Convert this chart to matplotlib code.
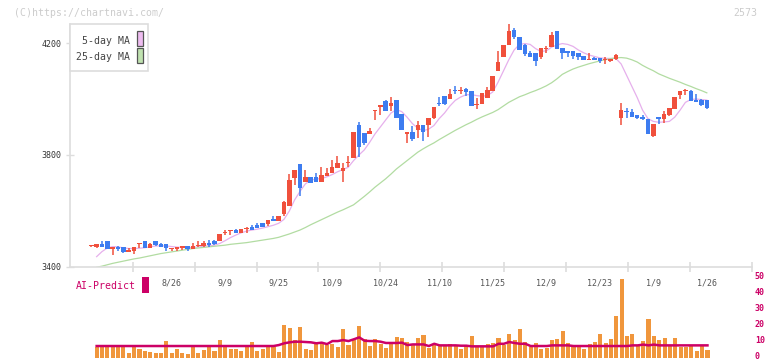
import numpy as np
import matplotlib
matplotlib.use("Agg")
import matplotlib.pyplot as plt
from matplotlib.patches import Rectangle
from matplotlib.transforms import blended_transform_factory, ScaledTranslation

nan = np.nan

# ---------------- data ----------------
opens = [3474,3471,3482,3493,3465,3471,3471,3455,3457,3481,
         3493,3469,3493,3481,3482,3466,3465,3469,3474,3465,
         3474,3474,3486,3493,3494,3522,3530,3532,3523,3535,
         3543,3550,3557,3554,3573,3566,3589,3619,3719,3768,
         3705,3720,3720,3705,3726,3735,3754,3743,3770,3790,
         3907,3878,3875,3958,3970,3994,3975,3996,3946,3876,
         3882,3889,3907,3907,3931,3984,4011,4001,4033,4027,
         4037,4029,3980,3982,4004,4029,4101,4151,4194,4246,
         4221,4194,4165,4163,4151,4179,4187,4242,4182,4171,
         4171,4165,4154,4141,4146,4146,4140,4137,4142,3931,
         3957,3954,3943,3937,3929,3869,3936,3930,3943,3965,
         4015,4027,4030,3996,3996,3996]
highs = [3476,3482,3493,3494,3472,3476,3472,3467,3472,3486,
         3494,3486,3494,3486,3483,3468,3471,3475,3475,3485,
         3493,3492,3496,3498,3519,3532,3533,3536,3537,3544,
         3549,3558,3558,3569,3583,3583,3634,3732,3747,3769,
         3746,3721,3735,3758,3752,3782,3796,3770,3796,3883,
         3919,3879,3898,3962,3980,3995,4008,3997,3947,3882,
         3904,3921,3908,3933,3971,4007,4012,4036,4046,4043,
         4038,4030,4005,4021,4043,4083,4170,4193,4268,4254,
         4222,4195,4171,4164,4183,4189,4238,4243,4183,4172,
         4172,4166,4155,4163,4151,4147,4149,4144,4159,3985,
         3967,3964,3944,3943,3930,3912,3937,3957,3969,4008,
         4030,4037,4031,4018,4001,3997]
lows = [3473,3469,3472,3464,3443,3458,3449,3454,3448,3469,
        3468,3468,3474,3470,3458,3457,3458,3461,3458,3464,
        3473,3473,3473,3480,3493,3514,3515,3522,3522,3520,
        3532,3539,3542,3548,3565,3565,3583,3618,3694,3655,
        3704,3699,3704,3704,3725,3734,3753,3702,3758,3789,
        3794,3836,3874,3926,3943,3957,3957,3932,3888,3844,
        3850,3860,3850,3865,3929,3976,3980,4000,4018,4018,
        4010,3974,3963,3981,4003,4028,4100,4150,4193,4215,
        4175,4155,4150,4117,4144,4165,4186,4179,4144,4151,
        4144,4139,4139,4140,4138,4129,4125,4132,4141,3907,
        3931,3936,3930,3926,3874,3863,3911,3915,3941,3964,
        4001,4014,3993,3989,3976,3965]
closes = [3475,3481,3473,3465,3471,3465,3455,3462,3471,3483,
          3469,3481,3479,3471,3469,3467,3470,3474,3465,3475,
          3476,3485,3479,3481,3518,3524,3532,3523,3536,3537,
          3533,3540,3543,3568,3566,3582,3633,3711,3746,3683,
          3720,3701,3705,3729,3737,3758,3771,3754,3772,3882,
          3830,3844,3887,3961,3979,3958,3986,3933,3889,3881,
          3858,3907,3883,3932,3970,3981,3982,4018,4027,4033,
          4026,3975,3983,4020,4032,4082,4132,4192,4242,4220,
          4176,4162,4151,4135,4182,4181,4228,4180,4166,4165,
          4155,4151,4140,4143,4139,4135,4143,4143,4158,3961,
          3952,3937,3933,3927,3875,3911,3930,3945,3968,4007,
          4029,4033,3994,3990,3978,3969]
ma5 = [nan,3437,3455,3468,3473,3472,3468,3466,3466,3467,
       3469,3472,3475,3476,3475,3473,3471,3470,3469,3470,
       3472,3474,3476,3478,3484,3494,3505,3514,3522,3528,
       3532,3535,3539,3544,3549,3556,3570,3600,3640,3670,
       3697,3710,3714,3716,3722,3730,3740,3748,3756,3780,
       3800,3818,3845,3875,3900,3925,3950,3962,3955,3935,
       3912,3896,3887,3892,3905,3930,3950,3975,3995,4007,
       4015,4016,4012,4010,4012,4025,4060,4100,4140,4175,
       4195,4198,4195,4180,4170,4172,4185,4193,4198,4195,
       4188,4175,4165,4157,4152,4147,4145,4145,4145,4125,
       4085,4045,4005,3960,3930,3920,3917,3918,3920,3935,
       3960,3988,3998,4000,3998,3996]
ma25 = [nan,3399,3403,3408,3413,3417,3421,3425,3429,3432,
        3436,3440,3444,3448,3451,3454,3457,3460,3463,3466,
        3468,3470,3472,3474,3476,3478,3481,3483,3485,3487,
        3490,3493,3496,3499,3502,3506,3512,3518,3525,3532,
        3541,3551,3560,3569,3578,3587,3596,3604,3613,3622,
        3637,3652,3668,3685,3700,3715,3732,3750,3765,3780,
        3795,3810,3822,3833,3843,3855,3866,3877,3888,3898,
        3908,3917,3927,3936,3944,3952,3962,3975,3988,3998,
        4008,4015,4023,4030,4038,4047,4058,4072,4088,4098,
        4107,4114,4120,4126,4131,4136,4140,4144,4147,4148,
        4146,4140,4132,4120,4110,4101,4090,4082,4074,4067,
        4060,4052,4045,4037,4030,4022]
volume = [nan,7,7,7,7,7,7,3.1,7,5.4,
          4.2,3.5,3.1,3.1,10.4,3.1,5.6,3.1,2.3,7,
          3.1,4.8,7,4.4,11,7,5.2,5.6,4,7,
          9.8,4.4,5.2,7.9,6.6,3.5,20.4,18.5,11,19.2,
          5.6,4.8,8.5,8.9,7.9,8.5,6.6,17.9,7.9,11,
          19.8,11.6,7.3,11.6,8.5,6,8.9,12.9,12.3,9.8,
          7.9,12.3,14.2,6.0,7.9,7.9,7.9,8.5,7.9,5.4,
          7.9,13.6,7.3,6.9,8.5,9,12.3,7.9,14.8,11,
          17.9,9.8,6.9,9,5.4,6.3,11,11.7,16.7,9.2,
          6.9,6.9,5.4,8.5,9.8,14.8,9.2,11.7,26,49.2,
          13.6,14.8,7.9,10.4,24.2,13.6,11,12.3,7.9,12.3,
          6.9,6.9,7.9,4.2,7.9,4.8]
ai_predict = [nan] + [7.3] * 34 + [
    7.9, 9, 9.6, 10, 10, 9.8, 9.6, 9, 9.4, 8.5,
    10.4, 10.4, 11, 10.4, 11.5, 12.7, 10.6, 10.4, 10.4, 10,
    9.2, 9.2, 9.2, 9.4, 7.9, 8.3, 8.3, 8.3, 7.3, 8.7,
    7.7, 7.7, 7.7, 7.7, 7.5, 7.5, 7.1, 7.1, 7.1, 7.1,
    7.1, 8.7, 8.7, 9.8, 9.2, 8.7, 8.7, 7.3, 7.3, 7.3,
    7.3, 7.7, 7.7, 7.7, 7.7] + [7.3] * 11 + [7.7, 7.7, 8.2, 7.7, 8.2] + [7.7] * 10
date_labels = ["8/26", "9/9", "9/25", "10/9", "10/24", "11/10",
               "11/25", "12/9", "12/23", "1/9", "1/26"]
date_label_idx = [15, 25, 35, 45, 55, 65, 75, 85, 95, 105, 115]
price_ticks = [3400, 3800, 4200]
vol_ticks = [0, 10, 20, 30, 40, 50]
code = "2573"

# ---------------- layout ----------------
W, H, DPI = 772, 361, 100
MONO = "DejaVu Sans Mono"
plt.rcParams['font.family'] = [MONO]

fig = plt.figure(figsize=(W / DPI, H / DPI), dpi=DPI)
fig.patch.set_facecolor("white")

def fx(px):
    return px / W

def fy(py):
    return 1 - py / H

# pixel mapping of candle index
X0, DX = 91.3, 5.358
left_px, right_px = 70, 752
xlim = ((left_px - X0) / DX, (right_px - X0) / DX)

ax = fig.add_axes([fx(left_px), fy(267), (right_px - left_px) / W, (267 - 24) / H])
ax2 = fig.add_axes([fx(left_px), fy(357.7), (right_px - left_px) / W, (357.7 - 275) / H])
ax2.patch.set_visible(False)

n = len(closes)
idx = np.arange(n)
o = np.array(opens, float); h = np.array(highs, float)
l = np.array(lows, float); c = np.array(closes, float)

RED = "#f0503c"
BLUE = "#3d7cf0"
cols = [RED if c[i] >= o[i] else BLUE for i in range(n)]

ax.vlines(idx, l, h, colors=cols, linewidth=1.1, zorder=3)
body_bottom = np.minimum(o, c)
body_h = np.maximum(np.abs(c - o), 3.6)
ax.bar(idx, body_h, bottom=body_bottom, width=0.84, color=cols, linewidth=0, zorder=4)

ax.plot(idx, ma5, color="#e6b0ec", lw=0.9, zorder=2)
ax.plot(idx, ma25, color="#b2dca2", lw=0.9, zorder=2)

ylo = 3400
yhi = 4200 + (43 - 24) * (400 / 112)
ax.set_ylim(ylo, yhi)
ax.set_xlim(*xlim)

for s in ["top", "right"]:
    ax.spines[s].set_visible(False)
for s in ["left", "bottom"]:
    ax.spines[s].set_color("#dddddd")
    ax.spines[s].set_linewidth(1.2)

ax.set_yticks(price_ticks)
ax.set_yticklabels([str(t) for t in price_ticks])
ax.tick_params(axis="y", direction="inout", length=6, width=1, color="#dddddd",
               labelsize=6, labelcolor="#333333", pad=3)
# x ticks: evenly spaced grid marks (every 62 px)
xt = (132.7 + 62 * np.arange(11) - X0) / DX
ax.set_xticks(xt)
ax.set_xticklabels([])
ax.tick_params(axis="x", direction="inout", length=7, width=1.2, color="#dddddd")

tr = blended_transform_factory(ax.transData, fig.transFigure)
for lab, i in zip(date_labels, date_label_idx):
    fig.text(0, 0, lab, transform=tr, ha="center", va="center",
             fontsize=6, color="#555555", zorder=10).set_position((i, fy(283)))

# volume panel
vol = np.array(volume, float)
m = ~np.isnan(vol)
ax2.bar(idx[m], vol[m], width=0.76, color="#f0963c", linewidth=0, zorder=2)
ax2.plot(idx, ai_predict, color="#cc0066", lw=1.8, zorder=3)
ax2.set_xlim(*xlim)
ax2.set_ylim(0, (357.7 - 275) / 1.6)
for s in ax2.spines.values():
    s.set_visible(False)
ax2.set_xticks([])
ax2.yaxis.tick_right()
ax2.set_yticks(vol_ticks)
ax2.set_yticklabels([str(v) for v in vol_ticks])
ax2.tick_params(axis="y", length=0, pad=2, labelsize=6.0, labelcolor="#cc0066")
lift = ScaledTranslation(0, 2.2 / DPI, fig.dpi_scale_trans)
for t in ax2.get_yticklabels():
    t.set_fontweight("bold")
    t.set_transform(t.get_transform() + lift)

# watermark & code
fig.text(fx(14), fy(12.5), "(C)https://chartnavi.com/", fontsize=7.1,
         color="#cccccc", ha="left", va="center")
fig.text(fx(757), fy(12.5), code, fontsize=7.1, color="#cccccc",
         ha="right", va="center")

# legend box (top)
def rect_px(x0, y0, x1, y1, **kw):
    r = Rectangle((fx(x0), fy(y1)), fx(x1) - fx(x0), fy(y0) - fy(y1),
                  transform=fig.transFigure, **kw)
    fig.add_artist(r)

rect_px(70, 24, 148, 71, facecolor="white", edgecolor="#dddddd", lw=1.2, zorder=5)
fig.text(fx(130), fy(41), "5-day MA", fontsize=7.1, color="#444444",
         ha="right", va="center", zorder=6)
fig.text(fx(130), fy(57), "25-day MA", fontsize=7.1, color="#444444",
         ha="right", va="center", zorder=6)
rect_px(136.5, 31.5, 142.5, 46, facecolor="#eebcf0", edgecolor="#555555", lw=0.9, zorder=6)
rect_px(136.5, 48.5, 142.5, 62.5, facecolor="#c0e2b0", edgecolor="#555555", lw=0.9, zorder=6)

# AI-Predict label
fig.text(fx(76), fy(286), "AI-Predict", fontsize=7.1, color="#cc0066",
         ha="left", va="center")
rect_px(142.3, 276.7, 149, 292.7, facecolor="#cc0066", edgecolor="none", zorder=6)

fig.savefig("out.png", dpi=DPI, facecolor="white")
